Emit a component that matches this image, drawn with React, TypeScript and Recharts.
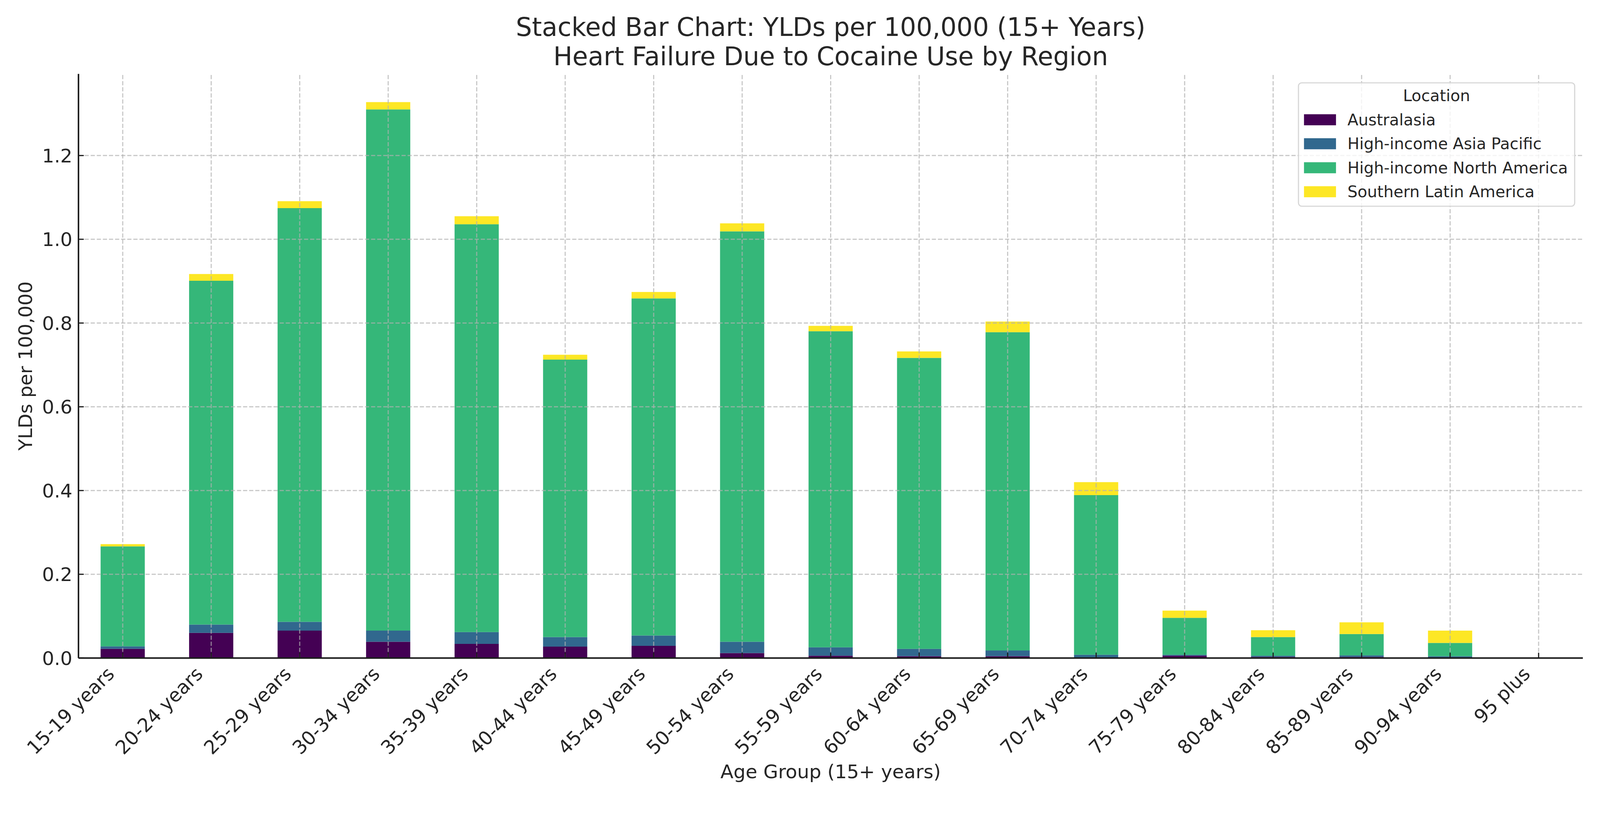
import React from 'react';
import { BarChart, Bar, XAxis, YAxis, Legend, ReferenceLine } from 'recharts';

const categories = [
  '15-19 years', '20-24 years', '25-29 years', '30-34 years', '35-39 years',
  '40-44 years', '45-49 years', '50-54 years', '55-59 years', '60-64 years',
  '65-69 years', '70-74 years', '75-79 years', '80-84 years', '85-89 years',
  '90-94 years', '95 plus',
];

const australasia = [0.022, 0.060, 0.0655, 0.039, 0.0337, 0.0273, 0.029, 0.0118, 0.0055, 0.0045, 0.0045, 0.001, 0.0055, 0.0027, 0.0027, 0.0009, 0];
const asiaPacific = [0.006, 0.020, 0.021, 0.0265, 0.0283, 0.0227, 0.0247, 0.0272, 0.020, 0.0173, 0.0135, 0.007, 0.0025, 0.0028, 0.0037, 0.0036, 0];
const northAmerica = [0.2386, 0.821, 0.988, 1.2445, 0.974, 0.6625, 0.805, 0.980, 0.755, 0.695, 0.760, 0.381, 0.088, 0.0445, 0.051, 0.0315, 0];
const southernLatin = [0.0054, 0.016, 0.0164, 0.0176, 0.019, 0.0118, 0.0154, 0.019, 0.0128, 0.0155, 0.0255, 0.031, 0.0173, 0.0164, 0.028, 0.0295, 0];

const seriesNames = ['Australasia', 'High-income Asia Pacific', 'High-income North America', 'Southern Latin America'];
const seriesColors = ['#440154', '#31688e', '#35b779', '#fde725'];
const seriesValues = [australasia, asiaPacific, northAmerica, southernLatin];

const yTicks = [0, 0.2, 0.4, 0.6, 0.8, 1.0, 1.2];

const titleLines = ['Stacked Bar Chart: YLDs per 100,000 (15+ Years)', 'Heart Failure Due to Cocaine Use by Region'];

const data = categories.map((c, i) => {
  const row: Record<string, any> = { age: c };
  seriesNames.forEach((n, k) => { row[n] = seriesValues[k][i]; });
  return row;
});

const FONT = 'DejaVu Sans';
const TEXT = '#262626';
const AXIS = '#1c1c1c';
const SCALE = 4096 / 4200;

const XTick = (props: any) => {
  const { x, y, payload } = props;
  const ax = x - 19;
  return (
    <text x={ax} y={y} transform={`rotate(-45, ${ax}, ${y})`} textAnchor="end"
      fontSize={50} fontFamily={FONT} fill={TEXT}>{payload.value}</text>
  );
};

const renderLegend = (props: any) => {
  const { payload } = props;
  return (
    <div style={{
      width: 728, height: 327, boxSizing: 'border-box', border: '3px solid #d6d6d6',
      borderRadius: 10, background: 'rgba(255,255,255,0.8)', fontFamily: FONT,
      color: TEXT, fontSize: 41.7, lineHeight: 1,
    }}>
      <div style={{ height: 63, marginTop: 1, display: 'flex', alignItems: 'center', justifyContent: 'center' }}>Location</div>
      {(payload || []).map((entry: any) => (
        <div key={entry.value} style={{ height: 63, display: 'flex', alignItems: 'center' }}>
          <span style={{ display: 'inline-block', width: 84, height: 29, background: entry.color, marginLeft: 13, marginRight: 30 }} />
          <span>{entry.value}</span>
        </div>
      ))}
    </div>
  );
};

const gridStyle = { stroke: '#b0b0b0', strokeOpacity: 0.7, strokeWidth: 3, strokeDasharray: '11 5' };

export default function App() {
  return (
    <div style={{ position: 'absolute', left: 0, top: 0, width: 4200, height: 2100, background: '#fff',
      transform: `scale(${SCALE})`, transformOrigin: '0 0' }}>
      <BarChart width={4200} height={2100} data={data}
        margin={{ top: 194, right: 45, bottom: 72, left: 56 }} barCategoryGap="25%">
        <XAxis dataKey="age" height={300} interval={0}
          tick={<XTick />} tickSize={-14} tickMargin={59}
          axisLine={{ stroke: AXIS, strokeWidth: 4 }} tickLine={{ stroke: AXIS, strokeWidth: 3 }}
          label={(p: any) => {
            const vb = p.viewBox;
            return (
              <text x={vb.x + vb.width / 2} y={vb.y + 316} textAnchor="middle"
                fontSize={50} fontFamily={FONT} fill={TEXT}>Age Group (15+ years)</text>
            );
          }} />
        <YAxis width={150} domain={[0, 1.395]} ticks={yTicks} type="number"
          tickFormatter={(v: number) => v.toFixed(1)} tickSize={-14} tickMargin={30}
          tick={{ fontSize: 50, fontFamily: FONT, fill: TEXT }}
          axisLine={{ stroke: AXIS, strokeWidth: 4 }} tickLine={{ stroke: AXIS, strokeWidth: 3 }}
          label={(p: any) => {
            const vb = p.viewBox;
            const lx = vb.x + 28;
            const ly = vb.y + vb.height / 2;
            return (
              <text x={lx} y={ly} transform={`rotate(-90, ${lx}, ${ly})`} textAnchor="middle"
                fontSize={50} fontFamily={FONT} fill={TEXT}>YLDs per 100,000</text>
            );
          }} />
        {seriesNames.map((n, k) => (
          <Bar key={n} dataKey={n} name={n} stackId="a" fill={seriesColors[k]} isAnimationActive={false} />
        ))}
        {yTicks.filter((t) => t > 0).map((t) => (
          <ReferenceLine key={'y' + t} y={t} {...gridStyle} />
        ))}
        {categories.map((c) => (
          <ReferenceLine key={'x' + c} x={c} {...gridStyle} />
        ))}
        <Legend layout="vertical" align="center" verticalAlign="middle" content={renderLegend}
          wrapperStyle={{ left: 3407, top: 216, width: 728, height: 327 }} />
        {titleLines.map((t, i) => (
          <text key={t} x={2180.5} y={94 + i * 77} textAnchor="middle" fontSize={66.7}
            fontFamily={FONT} fill={TEXT}>{t}</text>
        ))}
      </BarChart>
    </div>
  );
}
